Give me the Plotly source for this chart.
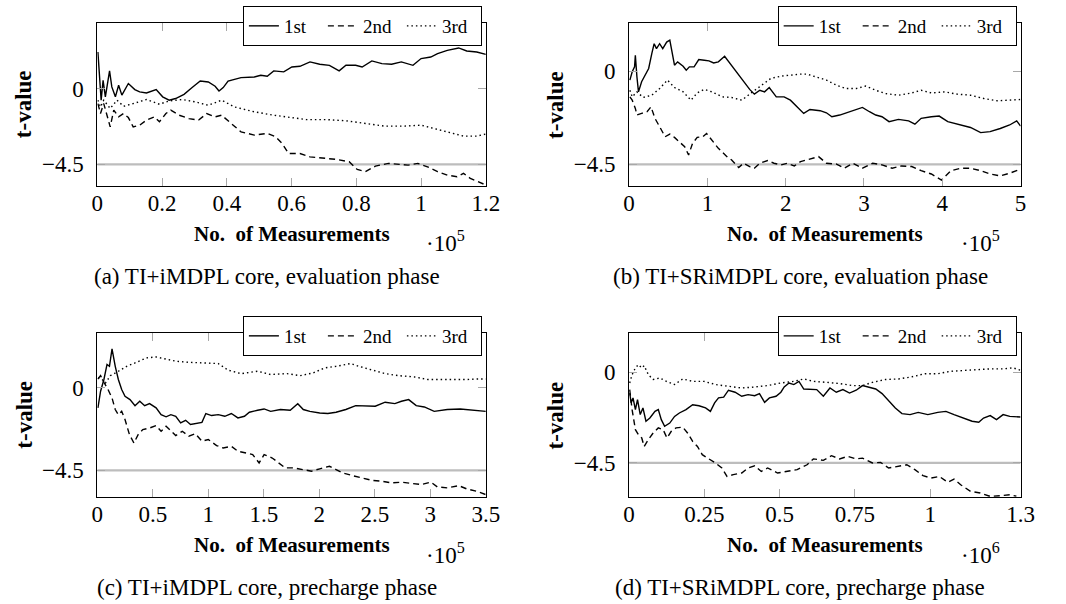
import plotly.graph_objects as go

# ---------------- data (x in units of the axis multiplier) ----------------
# (a) TI+iMDPL core, evaluation phase  (x * 1e5)
A1_X = [0.002,0.008,0.012,0.018,0.025,0.038,0.045,0.056,0.066,0.076,0.096,0.116,0.131,0.152,0.182,0.202,0.222,0.242,0.268,0.293,0.318,0.343,0.364,0.376,0.389,0.404,0.444,0.485,0.505,0.525,0.545,0.576,0.601,0.626,0.657,0.687,0.717,0.747,0.768,0.798,0.818,0.848,0.879,0.909,0.939,0.975,1.0,1.030,1.051,1.081,1.116,1.141,1.172,1.2]
A1_Y = [2.17,0.69,-0.69,0.49,-0.49,1.05,0.10,-0.49,0.20,-0.39,0.30,-0.06,-0.20,-0.26,-0.06,-0.49,-0.69,-0.59,-0.34,0.06,0.45,0.39,0.14,-0.14,0.06,0.45,0.65,0.69,0.79,0.73,1.05,0.99,1.28,1.32,1.58,1.44,1.38,1.05,1.38,1.38,1.28,1.64,1.48,1.44,1.58,1.38,1.78,1.87,2.07,2.27,2.41,2.23,2.17,2.03]
A2_X = [0.002,0.010,0.020,0.030,0.040,0.051,0.066,0.081,0.096,0.111,0.131,0.152,0.177,0.192,0.212,0.227,0.253,0.283,0.313,0.338,0.364,0.384,0.414,0.444,0.485,0.525,0.551,0.571,0.591,0.626,0.657,0.697,0.737,0.778,0.803,0.828,0.859,0.899,0.929,0.960,0.990,1.020,1.051,1.081,1.111,1.131,1.152,1.177,1.2]
A2_Y = [-0.89,-1.48,-0.89,-1.58,-2.27,-1.28,-1.68,-1.48,-1.72,-2.27,-2.17,-1.87,-1.68,-1.97,-1.48,-1.28,-1.58,-1.78,-1.87,-1.48,-1.68,-1.58,-2.07,-2.57,-2.76,-2.66,-2.86,-3.26,-3.85,-3.85,-4.05,-4.14,-4.20,-4.34,-4.80,-4.93,-4.60,-4.44,-4.48,-4.54,-4.44,-4.64,-4.93,-5.13,-5.23,-5.03,-5.33,-5.53,-5.72]
A3_X = [0.002,0.010,0.020,0.040,0.061,0.081,0.111,0.152,0.192,0.222,0.263,0.303,0.343,0.384,0.424,0.485,0.545,0.596,0.646,0.707,0.768,0.828,0.889,0.949,1.0,1.040,1.091,1.131,1.172,1.2]
A3_Y = [-0.69,-1.09,-0.69,-1.18,-0.69,-1.05,-0.89,-0.65,-0.93,-0.73,-0.65,-0.79,-0.99,-0.69,-1.09,-1.38,-1.58,-1.72,-1.84,-1.84,-1.91,-2.07,-2.23,-2.23,-2.17,-2.37,-2.62,-2.82,-2.82,-2.70]

# (b) TI+SRiMDPL core, evaluation phase  (x * 1e5)
B1_X = [0.01,0.04,0.07,0.08,0.10,0.12,0.16,0.20,0.25,0.29,0.32,0.35,0.39,0.43,0.48,0.52,0.55,0.58,0.62,0.69,0.73,0.77,0.83,0.89,0.96,1.02,1.08,1.14,1.22,1.29,1.37,1.46,1.54,1.60,1.67,1.73,1.79,1.88,1.98,2.06,2.15,2.23,2.31,2.44,2.52,2.59,2.69,2.82,2.90,2.98,3.07,3.15,3.23,3.32,3.44,3.57,3.65,3.73,3.86,3.96,4.07,4.24,4.36,4.49,4.61,4.74,4.86,4.95,5.0]
B1_Y = [-0.43,-0.03,0.21,0.77,-0.27,-1.0,-0.51,-0.19,0.13,0.85,1.33,1.09,1.33,1.09,1.41,1.50,0.85,0.29,0.45,0.24,0.05,0.21,0.21,0.56,0.53,0.50,0.40,0.45,0.72,0.37,-0.03,-0.51,-0.88,-1.11,-0.92,-1.0,-0.79,-1.24,-1.24,-1.40,-1.72,-2.04,-1.85,-1.91,-2.01,-2.20,-2.12,-1.96,-1.85,-1.75,-1.96,-2.12,-2.20,-2.44,-2.33,-2.40,-2.56,-2.28,-2.20,-2.17,-2.44,-2.60,-2.72,-2.97,-2.92,-2.77,-2.60,-2.40,-2.65]
B2_X = [0.01,0.04,0.08,0.10,0.16,0.23,0.28,0.33,0.39,0.46,0.52,0.58,0.64,0.71,0.76,0.81,0.87,0.94,0.99,1.06,1.14,1.25,1.31,1.40,1.46,1.54,1.60,1.67,1.77,1.85,1.94,2.02,2.11,2.19,2.31,2.42,2.52,2.65,2.75,2.86,2.98,3.11,3.23,3.36,3.48,3.61,3.73,3.86,3.99,4.11,4.24,4.36,4.49,4.61,4.74,4.86,5.0]
B2_Y = [-1.24,-1.40,-1.80,-2.12,-2.04,-1.96,-1.72,-2.28,-2.68,-3.17,-3.04,-3.20,-3.41,-3.65,-4.05,-3.49,-3.20,-3.17,-3.01,-3.33,-3.73,-4.13,-4.29,-4.66,-4.45,-4.61,-4.69,-4.45,-4.32,-4.45,-4.53,-4.45,-4.58,-4.37,-4.26,-4.13,-4.45,-4.49,-4.69,-4.45,-4.69,-4.45,-4.53,-4.69,-4.58,-4.61,-4.81,-4.97,-5.26,-4.81,-4.69,-4.69,-4.81,-4.97,-5.06,-4.93,-4.74]
B3_X = [0.01,0.04,0.10,0.18,0.29,0.39,0.49,0.58,0.69,0.79,0.87,0.96,1.06,1.19,1.31,1.44,1.56,1.69,1.81,1.94,2.06,2.19,2.27,2.40,2.52,2.65,2.77,2.90,3.02,3.15,3.27,3.44,3.61,3.73,3.86,4.03,4.19,4.36,4.53,4.70,4.86,5.0]
B3_Y = [-0.92,-1.24,-1.0,-1.27,-1.16,-0.84,-0.43,-0.79,-1.0,-1.40,-1.05,-0.88,-1.0,-1.24,-1.27,-1.40,-1.05,-0.68,-0.35,-0.24,-0.19,-0.14,-0.14,-0.31,-0.43,-0.68,-0.84,-0.84,-0.72,-0.92,-1.08,-1.16,-1.05,-0.92,-1.05,-1.0,-1.11,-1.16,-1.32,-1.43,-1.40,-1.37]

# (c) TI+iMDPL core, precharge phase  (x * 1e5)
C1_X = [0.006,0.03,0.06,0.088,0.11,0.133,0.162,0.19,0.22,0.25,0.295,0.34,0.383,0.427,0.471,0.53,0.575,0.62,0.663,0.707,0.751,0.796,0.84,0.899,0.943,0.978,1.03,1.09,1.149,1.208,1.267,1.326,1.37,1.444,1.503,1.562,1.65,1.738,1.806,1.856,1.915,2.004,2.077,2.151,2.239,2.328,2.416,2.504,2.593,2.681,2.74,2.805,2.873,2.946,3.035,3.153,3.27,3.388,3.5]
C1_Y = [-1.09,-0.18,0.46,1.28,1.18,2.13,1.18,0.46,-0.09,-0.46,-0.64,-0.97,-0.73,-0.97,-0.86,-1.09,-1.46,-1.58,-1.46,-1.55,-1.91,-1.77,-2.00,-1.91,-1.88,-1.40,-1.51,-1.46,-1.55,-1.40,-1.64,-1.55,-1.33,-1.22,-1.15,-1.28,-1.18,-1.22,-0.86,-1.18,-1.28,-1.37,-1.40,-1.33,-1.18,-0.97,-0.97,-1.00,-0.78,-0.86,-0.73,-0.64,-0.97,-1.04,-1.28,-1.18,-1.15,-1.22,-1.28]
C2_X = [0.006,0.03,0.06,0.094,0.133,0.162,0.19,0.22,0.25,0.29,0.33,0.368,0.41,0.471,0.53,0.575,0.62,0.663,0.707,0.766,0.825,0.884,0.943,1.0,1.075,1.134,1.208,1.267,1.34,1.40,1.458,1.503,1.576,1.635,1.694,1.768,1.856,1.93,2.004,2.092,2.151,2.21,2.298,2.387,2.475,2.563,2.652,2.74,2.829,2.917,3.005,3.064,3.153,3.256,3.329,3.418,3.5]
C2_Y = [0.49,0.67,0.31,-0.05,-0.55,-1.18,-1.46,-1.28,-1.73,-2.55,-3.01,-2.55,-2.28,-2.19,-2.06,-2.37,-2.09,-2.37,-2.60,-2.37,-2.64,-2.50,-2.91,-2.82,-3.15,-3.28,-3.19,-3.46,-3.55,-3.64,-4.10,-3.64,-3.83,-4.10,-4.37,-4.37,-4.46,-4.55,-4.42,-4.28,-4.46,-4.64,-4.79,-4.92,-5.05,-5.10,-5.19,-5.15,-5.23,-5.28,-5.15,-5.41,-5.46,-5.34,-5.52,-5.65,-5.83]
C3_X = [0.006,0.044,0.074,0.118,0.19,0.265,0.354,0.442,0.53,0.62,0.707,0.825,0.943,1.09,1.179,1.296,1.444,1.562,1.709,1.827,1.945,2.048,2.151,2.283,2.357,2.475,2.593,2.711,2.858,2.976,3.094,3.212,3.329,3.418,3.5]
C3_Y = [0.55,0.46,0.27,0.67,0.91,1.18,1.40,1.64,1.69,1.58,1.46,1.40,1.37,1.33,0.97,0.78,0.91,0.73,0.78,0.67,0.82,1.09,1.18,1.33,1.18,0.97,0.78,0.67,0.60,0.46,0.46,0.42,0.46,0.49,0.49]

# (d) TI+SRiMDPL core, precharge phase  (x * 1e6)
D1_X = [0.002,0.007,0.013,0.021,0.028,0.037,0.046,0.056,0.069,0.086,0.097,0.107,0.118,0.135,0.151,0.167,0.189,0.211,0.232,0.254,0.27,0.284,0.297,0.314,0.33,0.352,0.374,0.395,0.417,0.433,0.45,0.466,0.488,0.504,0.515,0.531,0.547,0.564,0.58,0.602,0.623,0.645,0.667,0.688,0.71,0.732,0.754,0.775,0.797,0.819,0.84,0.862,0.884,0.906,0.933,0.96,0.992,1.025,1.052,1.079,1.112,1.139,1.161,1.177,1.199,1.22,1.242,1.264,1.3]
D1_Y = [-1.03,-1.52,-1.27,-1.85,-1.36,-2.10,-1.77,-2.43,-2.27,-1.94,-1.85,-2.35,-2.68,-2.52,-2.19,-2.02,-1.85,-1.61,-1.66,-1.77,-1.94,-1.52,-1.27,-1.23,-0.89,-0.99,-1.19,-1.11,-1.16,-1.06,-1.49,-1.27,-1.19,-0.99,-0.73,-0.53,-0.61,-0.45,-0.83,-0.83,-0.86,-1.19,-0.78,-0.99,-0.86,-1.03,-0.89,-0.66,-0.73,-0.83,-1.06,-1.44,-1.77,-2.05,-2.10,-1.99,-2.10,-1.99,-1.94,-2.10,-2.27,-2.43,-2.48,-2.27,-2.15,-2.35,-2.10,-2.19,-2.22]
D2_X = [0.002,0.01,0.021,0.031,0.042,0.05,0.064,0.08,0.097,0.113,0.126,0.14,0.156,0.178,0.194,0.211,0.227,0.243,0.265,0.287,0.308,0.325,0.346,0.374,0.395,0.417,0.439,0.46,0.493,0.526,0.558,0.591,0.612,0.645,0.672,0.699,0.726,0.754,0.775,0.808,0.835,0.862,0.895,0.922,0.949,0.976,1.003,1.03,1.058,1.079,1.101,1.134,1.166,1.199,1.231,1.264,1.286]
D2_Y = [-0.86,-1.85,-2.85,-3.10,-3.26,-3.68,-3.34,-3.01,-2.76,-2.85,-3.26,-2.93,-2.76,-2.72,-3.01,-3.43,-3.68,-4.09,-4.30,-4.50,-4.75,-5.17,-5.08,-5.00,-4.75,-4.64,-4.92,-4.75,-5.00,-4.92,-4.83,-4.59,-4.30,-4.37,-4.14,-4.30,-4.17,-4.30,-4.26,-4.50,-4.47,-4.75,-4.67,-4.59,-4.83,-5.13,-5.25,-5.17,-5.46,-5.30,-5.58,-5.91,-5.99,-6.16,-6.13,-6.08,-6.15]
D3_X = [0.002,0.01,0.021,0.031,0.042,0.05,0.064,0.08,0.102,0.124,0.151,0.178,0.211,0.249,0.287,0.33,0.374,0.417,0.46,0.504,0.547,0.58,0.612,0.656,0.699,0.743,0.775,0.808,0.851,0.895,0.938,0.982,1.025,1.068,1.112,1.155,1.199,1.242,1.275,1.3]
D3_Y = [-0.53,-0.12,0.22,0.38,0.22,0.33,-0.12,-0.36,-0.28,-0.45,-0.61,-0.33,-0.45,-0.45,-0.61,-0.70,-0.78,-0.73,-0.66,-0.53,-0.45,-0.33,-0.45,-0.50,-0.56,-0.66,-0.66,-0.50,-0.36,-0.33,-0.23,-0.07,-0.07,0.05,0.10,0.13,0.17,0.17,0.22,0.10]

SERIES_NAMES = ["1st", "2nd", "3rd"]
THRESHOLD = -4.5
Y_TICKS = [-4.5, 0]
Y_TICK_TEXT = ["\u22124.5", "0"]

X_RANGES = [[0, 1.2], [0, 5], [0, 3.5], [0, 1.3]]
Y_RANGES = [[-5.78, 3.89], [-5.55, 2.33], [-5.96, 3.0], [-6.19, 1.95]]
X_TICKS = [[0, 0.2, 0.4, 0.6, 0.8, 1, 1.2],
           [0, 1, 2, 3, 4, 5],
           [0, 0.5, 1, 1.5, 2, 2.5, 3, 3.5],
           [0, 0.25, 0.5, 0.75, 1, 1.3]]
X_TICK_TEXT = [["0", "0.2", "0.4", "0.6", "0.8", "1", "1.2"],
               ["0", "1", "2", "3", "4", "5"],
               ["0", "0.5", "1", "1.5", "2", "2.5", "3", "3.5"],
               ["0", "0.25", "0.5", "0.75", "1", "1.3"]]
MULTIPLIERS = ["5", "5", "5", "6"]
CAPTIONS = ["(a) TI+iMDPL core, evaluation phase",
            "(b) TI+SRiMDPL core, evaluation phase",
            "(c) TI+iMDPL core, precharge phase",
            "(d) TI+SRiMDPL core, precharge phase"]

PANELS = [
    [(A1_X, A1_Y), (A2_X, A2_Y), (A3_X, A3_Y)],
    [(B1_X, B1_Y), (B2_X, B2_Y), (B3_X, B3_Y)],
    [(C1_X, C1_Y), (C2_X, C2_Y), (C3_X, C3_Y)],
    [(D1_X, D1_Y), (D2_X, D2_Y), (D3_X, D3_Y)],
]

# ---------------- layout geometry (pixels) ----------------
W, H = 1066, 604
FONT = "Liberation Serif"
# plot boxes: left, right, top, bottom in px
BOXES = [(93, 489, 23, 186), (635, 1034, 23, 186), (93, 489, 333, 497), (635, 1034, 333, 497)]
DASHES = ["solid", "6px,4px", "1.5px,3px"]


def px(x):
    return x / W


def py(y):
    return 1 - y / H


fig = go.Figure()
layout = dict(
    width=W, height=H,
    margin=dict(l=0, r=0, t=0, b=0),
    paper_bgcolor="white", plot_bgcolor="white",
    font=dict(family=FONT, color="black"),
    showlegend=True,
    annotations=[],
)

for i, panel in enumerate(PANELS):
    n = i + 1
    xa = "x" if n == 1 else f"x{n}"
    ya = "y" if n == 1 else f"y{n}"
    leg = "legend" if n == 1 else f"legend{n}"
    l, r, t, b = BOXES[i]

    # threshold line
    fig.add_trace(go.Scatter(x=X_RANGES[i], y=[THRESHOLD, THRESHOLD], mode="lines",
                             line=dict(color="#bdbdbd", width=2.2), showlegend=False,
                             hoverinfo="skip", xaxis=xa, yaxis=ya))
    for k, (xs, ys) in enumerate(panel):
        fig.add_trace(go.Scatter(x=xs, y=ys, mode="lines", name=SERIES_NAMES[k],
                                 line=dict(color="black", width=1.4, dash=DASHES[k]),
                                 xaxis=xa, yaxis=ya, legend=leg))

    axis_common = dict(showline=True, linecolor="black", linewidth=1, mirror="ticks",
                       ticks="inside", ticklen=8, tickcolor="#a8a8a8", tickwidth=1,
                       showgrid=False, zeroline=False,
                       tickfont=dict(family=FONT, size=23, color="black"))
    layout["xaxis" if n == 1 else f"xaxis{n}"] = dict(
        domain=[px(l), px(r)], anchor=ya, range=X_RANGES[i],
        tickmode="array", tickvals=X_TICKS[i], ticktext=X_TICK_TEXT[i],
        ticklabelstandoff=-4, **axis_common)
    layout["yaxis" if n == 1 else f"yaxis{n}"] = dict(
        domain=[py(b), py(t)], anchor=xa, range=Y_RANGES[i],
        tickmode="array", tickvals=Y_TICKS, ticktext=Y_TICK_TEXT,
        ticklabelstandoff=8, **axis_common)

    layout[leg] = dict(
        orientation="h", x=px(r - 4), xanchor="right", y=py(t - 17), yanchor="top",
        bgcolor="white", bordercolor="black", borderwidth=1,
        font=dict(family=FONT, size=19, color="black"),
        entrywidth=34, entrywidthmode="pixels", tracegroupgap=0,
    )

    cx = (l + r) / 2
    layout["annotations"] += [
        dict(text="<b>No.  of Measurements</b>", x=px(cx), y=py(b + 48), xref="paper", yref="paper",
             showarrow=False, font=dict(family=FONT, size=21), xanchor="center", yanchor="middle"),
        dict(text="<b>t-value</b>", x=px(l - 75), y=py((t + b) / 2), xref="paper", yref="paper",
             showarrow=False, textangle=-90, font=dict(family=FONT, size=23),
             xanchor="center", yanchor="middle"),
        dict(text="\u00b710<sup>" + MULTIPLIERS[i] + "</sup>", x=px(r - 41), y=py(b + 56),
             xref="paper", yref="paper", showarrow=False, font=dict(family=FONT, size=23),
             xanchor="center", yanchor="middle"),
        dict(text=CAPTIONS[i], x=px(cx - 25), y=py(b + 90), xref="paper", yref="paper",
             showarrow=False, font=dict(family=FONT, size=23), xanchor="center", yanchor="middle"),
    ]

fig.update_layout(**layout)
fig.write_html("out.html")
